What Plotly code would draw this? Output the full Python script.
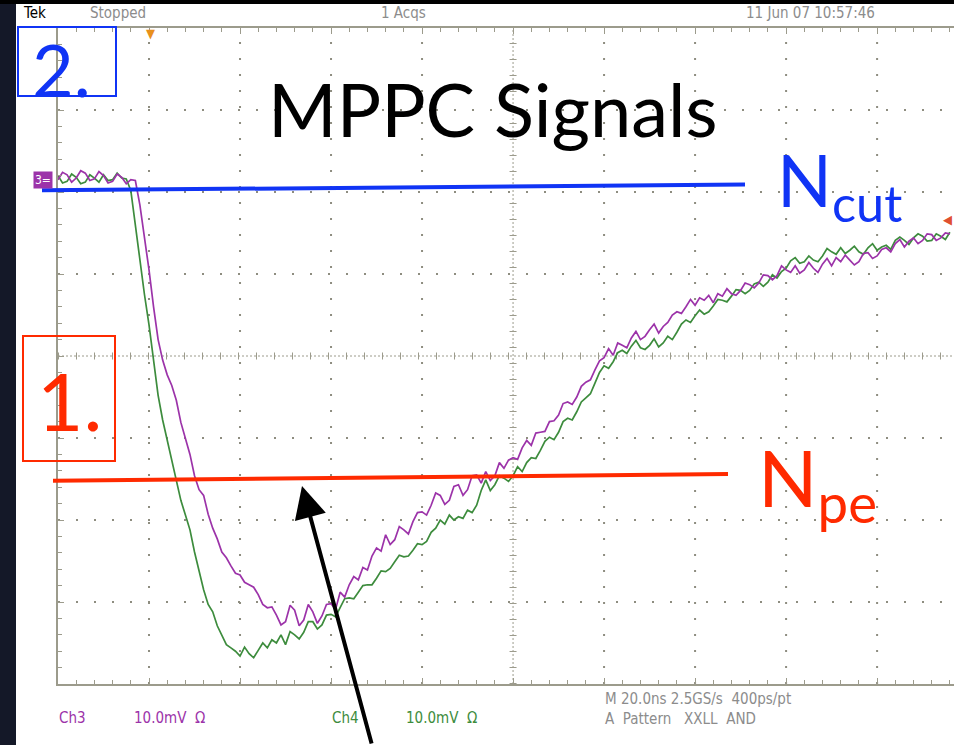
import plotly.graph_objects as go

# ---------------- data ----------------
time_ns = list(range(0, 197, 1))

ch3_mV = [21.5, 22.4, 22.1, 21.2, 21.7, 22.6, 22.3, 21.4, 21.6, 22.5,
          22.0, 21.1, 21.3, 22.2, 21.8, 21.0, 21.5, 21.4, 18.4, 14.6,
          10.5, 6.0, 2.0, -0.5, -2.3, -3.6, -5.4, -8.1, -10.2, -12.0,
          -14.6, -16.3, -17.0, -19.3, -21.0, -22.3, -23.9, -24.6, -25.6, -26.5,
          -26.7, -27.6, -27.9, -28.2, -29.1, -30.3, -30.7, -30.6, -31.6, -32.8,
          -32.4, -30.4, -31.0, -32.9, -32.2, -30.3, -31.2, -32.6, -31.7, -30.3,
          -30.2, -30.9, -28.8, -29.4, -27.9, -26.9, -27.3, -25.8, -26.1, -24.4,
          -23.4, -23.8, -21.8, -23.0, -22.4, -20.8, -21.2, -21.7, -20.2, -19.1,
          -19.0, -19.4, -18.2, -16.7, -17.0, -18.1, -17.6, -15.9, -15.7, -17.0,
          -16.3, -14.6, -14.5, -15.5, -14.1, -15.2, -14.6, -13.0, -13.7, -12.7,
          -12.4, -12.6, -11.2, -10.3, -10.9, -9.4, -9.3, -9.2, -8.0, -7.9,
          -7.2, -5.8, -5.6, -5.9, -5.0, -3.7, -3.2, -2.9, -1.7, -0.6,
          -0.2, 0.9, 0.1, 1.6, 1.3, 1.0, 2.2, 3.0, 2.0, 2.4,
          3.2, 3.9, 2.8, 3.6, 4.1, 5.0, 5.4, 5.2, 6.0, 6.9,
          6.2, 7.1, 6.8, 7.4, 6.5, 7.6, 7.3, 8.2, 7.6, 7.4,
          8.0, 8.9, 8.7, 8.3, 8.9, 9.9, 9.8, 9.3, 9.8, 11.0,
          10.5, 10.2, 11.0, 10.1, 10.5, 11.4, 10.7, 10.2, 11.2, 11.9,
          11.0, 12.0, 11.5, 12.3, 11.7, 11.1, 11.5, 12.5, 12.6, 11.9,
          12.2, 13.0, 13.2, 12.7, 13.7, 14.2, 13.3, 14.0, 14.4, 13.7,
          14.1, 14.9, 14.8, 14.1, 14.4, 15.0, 14.9]

ch4_mV = [22.0, 21.1, 21.3, 22.2, 21.8, 21.0, 21.2, 22.1, 21.7, 21.2,
          22.1, 21.4, 21.5, 22.3, 21.7, 21.6, 20.2, 15.8, 11.5, 7.5,
          3.8, -0.6, -4.8, -7.8, -10.2, -12.4, -15.1, -17.6, -19.4, -21.2,
          -23.9, -26.4, -28.5, -30.3, -31.2, -32.9, -34.0, -35.2, -35.6, -36.0,
          -36.6, -35.5, -36.3, -36.8, -35.9, -35.0, -35.6, -34.6, -35.0, -34.0,
          -35.2, -33.6, -34.0, -34.5, -33.7, -32.4, -32.4, -33.3, -32.8, -31.6,
          -31.5, -31.8, -30.7, -29.6, -29.5, -29.6, -28.8, -28.0, -27.9, -27.9,
          -27.1, -26.2, -26.3, -25.9, -25.1, -24.3, -24.5, -24.4, -23.7, -22.9,
          -23.0, -22.6, -21.5, -21.0, -20.0, -20.5, -19.4, -20.0, -19.6, -19.8,
          -18.8, -19.1, -18.2, -16.4, -15.1, -16.4, -15.7, -14.6, -14.9, -15.3,
          -14.6, -13.5, -14.1, -13.0, -12.4, -12.5, -11.5, -10.4, -9.9, -10.2,
          -9.3, -8.0, -7.6, -7.8, -6.8, -5.6, -5.1, -4.6, -3.3, -2.0,
          -1.2, -1.5, -0.7, 0.4, 0.7, 0.3, 1.2, 1.9, 1.0, 0.8,
          1.3, 2.1, 1.1, 1.6, 2.4, 2.0, 2.9, 3.9, 4.4, 4.1,
          4.9, 5.6, 5.1, 5.4, 6.1, 6.9, 6.8, 6.6, 7.3, 8.1,
          8.0, 7.6, 8.0, 8.8, 9.0, 8.5, 9.0, 9.9, 9.5, 10.3,
          10.7, 11.6, 12.0, 11.3, 11.5, 12.2, 11.7, 11.5, 12.2, 13.1,
          12.7, 12.4, 13.2, 12.5, 12.9, 13.4, 12.7, 12.4, 13.2, 13.7,
          12.9, 13.3, 13.5, 13.0, 14.1, 14.5, 14.1, 13.6, 14.4, 14.9,
          14.6, 14.0, 14.1, 14.9, 14.6, 14.2, 15.1]

ncut_level_mV = [20.2, 20.9]   # hand-drawn threshold (left, right)
npe_level_mV = [-15.2, -14.4]

x_range = [0, 196.9]
y_range = [-40, 40]
x_div_ns = 20
y_div_mV = 10

# ---------------- layout helpers ----------------
W, H = 954, 745
def px(x):
    return x / W
def py(y):
    return 1 - y / H

GRID = "#9c9b8c"
DOT = "#8e8d80"
PURPLE = "#9c33a9"
GREEN = "#3d8c3d"
BLUE = "#1034f5"
RED = "#ff2a00"
SCOPE_FONT = "Liberation Sans Narrow, DejaVu Sans Condensed, Liberation Sans, Arial"
TITLE_FONT = "Lato, Open Sans, sans-serif"

fig = go.Figure()
fig.add_trace(go.Scatter(x=time_ns, y=ch4_mV, mode="lines",
                         line=dict(color=GREEN, width=1.7), name="Ch4"))
fig.add_trace(go.Scatter(x=time_ns, y=ch3_mV, mode="lines",
                         line=dict(color=PURPLE, width=1.7), name="Ch3"))

fig.update_layout(
    width=W, height=H, margin=dict(l=0, r=0, t=0, b=0),
    paper_bgcolor="white", plot_bgcolor="white", showlegend=False,
    xaxis=dict(domain=[58 / W, 1], range=x_range, dtick=x_div_ns, tick0=0,
               showgrid=False, zeroline=False, showticklabels=False,
               showline=True, linecolor=GRID, linewidth=1.5, mirror="ticks",
               ticks="inside", ticklen=6, tickcolor=GRID, tickwidth=1,
               minor=dict(dtick=x_div_ns / 5, ticks="inside", ticklen=4,
                          tickcolor=GRID, showgrid=False)),
    yaxis=dict(domain=[py(684), py(28)], range=y_range, dtick=y_div_mV, tick0=0,
               showgrid=False, zeroline=False, showticklabels=False,
               showline=True, linecolor=GRID, linewidth=1.5, mirror=False,
               ticks="inside", ticklen=6, tickcolor=GRID, tickwidth=1,
               minor=dict(dtick=y_div_mV / 5, ticks="inside", ticklen=4,
                          tickcolor=GRID, showgrid=False)),
)

shapes = []
# dark frame pieces
shapes.append(dict(type="rect", xref="paper", yref="paper", x0=0, x1=px(16), y0=0, y1=1,
                   fillcolor="#141828", line=dict(width=0), layer="below"))
shapes.append(dict(type="rect", xref="paper", yref="paper", x0=0, x1=1, y0=py(4), y1=1,
                   fillcolor="#000000", line=dict(width=0), layer="below"))
# dotted graticule
for k in range(1, 10):
    xv = k * x_div_ns
    if k == 5:
        continue
    shapes.append(dict(type="line", xref="x", yref="y domain", x0=xv, x1=xv, y0=0, y1=1,
                       line=dict(color=DOT, width=2, dash="2px,14px"), layer="below"))
for k in range(-3, 4):
    if k == 0:
        continue
    yv = k * y_div_mV
    shapes.append(dict(type="line", xref="x domain", yref="y", x0=0, x1=1, y0=yv, y1=yv,
                       line=dict(color=DOT, width=2, dash="2px,16px"), layer="below"))
# centre lines (fine dots + tick marks)
shapes.append(dict(type="line", xref="x", yref="y domain", x0=100, x1=100, y0=0, y1=1,
                   line=dict(color=GRID, width=1, dash="2px,2px"), layer="below"))
shapes.append(dict(type="line", xref="x domain", yref="y", x0=0, x1=1, y0=0, y1=0,
                   line=dict(color=GRID, width=1, dash="2px,2px"), layer="below"))
shapes.append(dict(type="line", xref="x", yref="y domain", x0=100, x1=100, y0=0, y1=1,
                   line=dict(color=GRID, width=7, dash="1px,15px"), layer="below"))
shapes.append(dict(type="line", xref="x domain", yref="y", x0=0, x1=1, y0=0, y1=0,
                   line=dict(color=GRID, width=7, dash="1px,17px"), layer="below"))
# threshold lines
shapes.append(dict(type="line", xref="paper", yref="y", x0=px(42), x1=px(745),
                   y0=ncut_level_mV[0], y1=ncut_level_mV[1],
                   line=dict(color=BLUE, width=4), layer="above"))
shapes.append(dict(type="line", xref="paper", yref="y", x0=px(53), x1=px(728),
                   y0=npe_level_mV[0], y1=npe_level_mV[1],
                   line=dict(color=RED, width=4), layer="above"))
# label boxes
shapes.append(dict(type="rect", xref="paper", yref="paper", x0=px(18), x1=px(116),
                   y0=py(96), y1=py(27), line=dict(color=BLUE, width=2),
                   fillcolor="rgba(0,0,0,0)", layer="above"))
shapes.append(dict(type="rect", xref="paper", yref="paper", x0=px(23), x1=px(115),
                   y0=py(461), y1=py(336), line=dict(color=RED, width=2),
                   fillcolor="rgba(0,0,0,0)", layer="above"))
fig.update_layout(shapes=shapes)

ann = []
def txt(text, x, y, size, color, family=SCOPE_FONT, xanchor="left", yanchor="middle", **kw):
    ann.append(dict(text=text, x=px(x), y=py(y), xref="paper", yref="paper",
                    xanchor=xanchor, yanchor=yanchor, showarrow=False,
                    font=dict(size=size, color=color, family=family), **kw))

# scope header / footer
txt("Tek", 21, 13, 15, "#000000")
txt("Stopped", 88, 13, 15, "#8c8c8c")
txt("1 Acqs", 379, 13, 15, "#8c8c8c")
txt("11 Jun 07 10:57:46", 744, 13, 15, "#8c8c8c")
txt("Ch3", 57, 718, 15, PURPLE)
txt("10.0mV  Ω", 132, 718, 15, PURPLE)
txt("Ch4", 330, 718, 15, GREEN)
txt("10.0mV  Ω", 404, 718, 15, GREEN)
txt("M 20.0ns 2.5GS/s  400ps/pt", 603, 699, 15, "#8c8c8c")
txt("A  Pattern   XXLL  AND", 603, 719, 15, "#8c8c8c")
# markers
txt("▼", 150, 34, 13, "#e8901c", xanchor="center")
txt("◀", 954, 219, 13, "#e05030", xanchor="right")
txt("3=", 43, 180, 12, "white", xanchor="center", bgcolor=PURPLE, borderpad=1)

# presentation annotations
txt("MPPC Signals", 493, 108, 74, "#000000", family=TITLE_FONT, xanchor="center")
txt("2.", 62, 69, 72, BLUE, family=TITLE_FONT, xanchor="center")
txt("1.", 69, 400, 80, RED, family=TITLE_FONT, xanchor="center")
txt("N<sub>cut</sub>", 839, 184, 72, BLUE, family=TITLE_FONT, xanchor="center")
txt("N<sub>pe</sub>", 817, 482, 78, RED, family=TITLE_FONT, xanchor="center")

# arrow
ann.append(dict(text="", x=px(302), y=py(486), xref="paper", yref="paper",
                ax=70, ay=262, axref="pixel", ayref="pixel",
                showarrow=True, arrowhead=2, arrowsize=1.6, arrowwidth=4,
                arrowcolor="#000000"))
fig.update_layout(annotations=ann)

fig.write_html("out.html")
